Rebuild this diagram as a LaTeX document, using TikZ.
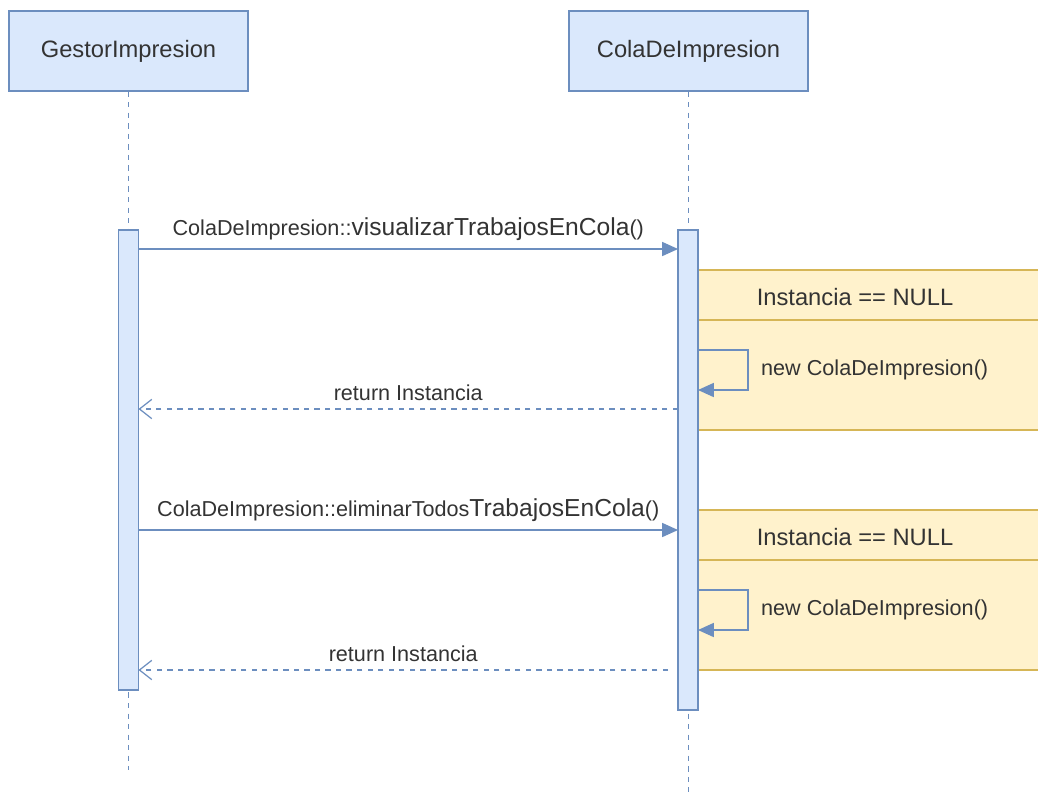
\documentclass[tikz,border=0pt]{standalone}
\usepackage{fontspec}
\setmainfont{Liberation Sans}
\usetikzlibrary{arrows.meta,positioning}
\definecolor{seqInk}{HTML}{333333}
\definecolor{seqBlue}{HTML}{6C8EBF}
\definecolor{seqBlueFill}{HTML}{DAE8FC}
\definecolor{seqGold}{HTML}{D6B656}
\definecolor{seqGoldFill}{HTML}{FFF2CC}
\tikzset{
  seqParticipant/.style={fill=seqBlueFill,draw=seqBlue,text=seqInk},
  seqFrame/.style={fill=seqGoldFill,draw=seqGold,text=seqInk},
  seqEdge/.style={draw=seqBlue,line width=0.7pt}
}
\newcommand{\bigpart}[1]{{\fontsize{14}{16}\selectfont #1}}

\begin{document}
\begin{tikzpicture}[x=0.02cm,y=-0.02cm,
  lifebox/.style={seqParticipant,line width=0.7pt,minimum width=4.78cm,
    minimum height=1.6cm,font=\fontsize{13.5}{16}\selectfont},
  actbar/.style={seqParticipant,line width=0.7pt,minimum width=0.4cm,
    inner sep=0pt,outer sep=0pt},
  altframe/.style={seqFrame,line width=0.7pt,minimum width=6.94cm,
    minimum height=3.2cm,inner sep=0pt,outer sep=0pt},
  msgtext/.style={text=seqInk,font=\fontsize{12.3}{14}\selectfont},
  condtext/.style={text=seqInk,font=\fontsize{13.5}{16}\selectfont},
  lifeline/.style={seqEdge,dash pattern=on 3pt off 3pt},
  call/.style={seqEdge,-{Triangle[length=9pt,width=8pt]}},
  reply/.style={seqEdge,dash pattern=on 3pt off 3pt,
    -{Straight Barb[length=7pt,width=11pt,line width=0.7pt]}}]
\useasboundingbox (0,0) rectangle (1038,792);
\clip (0,0) rectangle (1038,792);

% alt frames
\node[altframe,anchor=north west] (alt1) at (698,270) {};
\node[altframe,anchor=north west] (alt2) at (698,510) {};
\draw[seqGold,line width=0.7pt] ([yshift=-1cm]alt1.north west) -- ([yshift=-1cm]alt1.north east);
\draw[seqGold,line width=0.7pt] ([yshift=-1cm]alt2.north west) -- ([yshift=-1cm]alt2.north east);
\node[condtext] (cond1) at (855,297) {Instancia == NULL};
\node[condtext] (cond2) at (855,537) {Instancia == NULL};

% participants and lifelines
\node[lifebox] (gestor) at (128.5,51) {GestorImpresion};
\node[lifebox] (cola) at (688.5,51) {ColaDeImpresion};
\coordinate (gestorEnd) at (128.5,770);
\coordinate (colaEnd) at (688.5,792);
\draw[lifeline] (gestor) -- (gestorEnd);
\draw[lifeline] (cola) -- (colaEnd);

\node[actbar,minimum height=9.2cm] (gestorAct) at (128.5,460) {};
\node[actbar,minimum height=9.6cm] (colaAct) at (688,470) {};

% first call
\draw[call] (gestorAct.east |- 0,249) -- (colaAct.west |- 0,249)
  node[msgtext,midway,above=1pt] (msg1) {ColaDeImpresion::\bigpart{visualizarTrabajosEnCola}()};
\coordinate (loop1) at (748,390);
\draw[call] (colaAct.east |- 0,350) -| (loop1) -- (colaAct.east |- loop1);
\node[msgtext,anchor=west] (new1) at (755,370) {new ColaDeImpresion()};
\draw[reply] (colaAct.west |- 0,409) -- (gestorAct.east |- 0,409)
  node[msgtext,midway,above=1pt] (ret1) {return Instancia};

% second call
\draw[call] (gestorAct.east |- 0,530) -- (colaAct.west |- 0,530)
  node[msgtext,midway,above=1pt] (msg2) {ColaDeImpresion::eliminarTodos\bigpart{TrabajosEnCola}()};
\coordinate (loop2) at (748,630);
\draw[call] (colaAct.east |- 0,590) -| (loop2) -- (colaAct.east |- loop2);
\node[msgtext,anchor=west] (new2) at (755,610) {new ColaDeImpresion()};
\draw[reply] ([xshift=-0.2cm]colaAct.west |- 0,670) -- (gestorAct.east |- 0,670)
  node[msgtext,midway,above=1pt] (ret2) {return Instancia};
\end{tikzpicture}
\end{document}
